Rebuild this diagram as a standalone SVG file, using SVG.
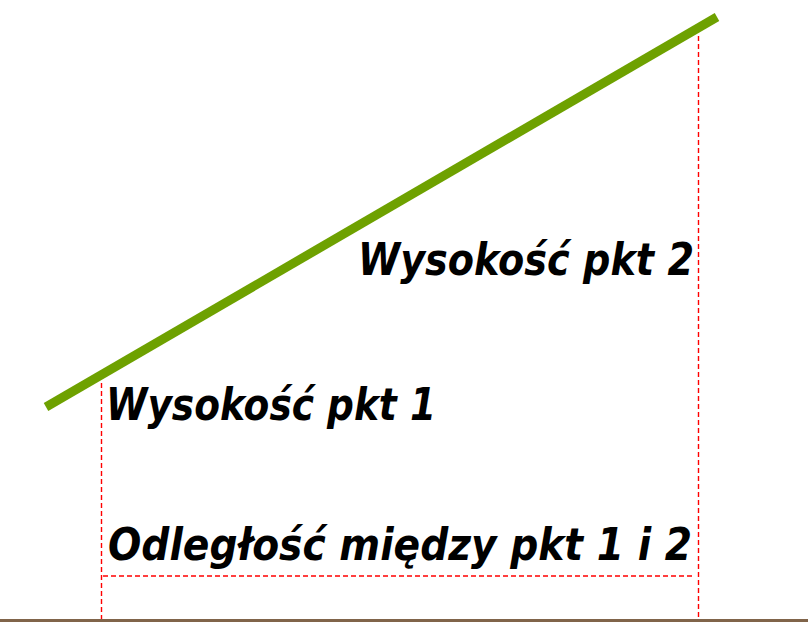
<svg xmlns="http://www.w3.org/2000/svg" width="808" height="639" viewBox="0 0 808 639">
<style>
.lbl{font-family:"DejaVu Sans","Liberation Sans",sans-serif;font-weight:bold;font-style:italic;font-size:44px;fill:#000}
.dash{stroke:#ff0000;stroke-width:1.4;stroke-dasharray:5,3;fill:none}
</style>
<rect width="808" height="639" fill="#ffffff"/>
<g id="guides">
<line class="dash" x1="101.5" y1="383" x2="101.5" y2="620"/>
<line class="dash" x1="698.5" y1="36" x2="698.5" y2="620"/>
<line class="dash" x1="103" y1="576" x2="694" y2="576"/>
</g>
<g id="ground"><line x1="0" y1="620.5" x2="808" y2="620.5" stroke="#80644a" stroke-width="3"/></g>
<g id="slope"><line x1="46" y1="407" x2="717" y2="17" stroke="#6ea100" stroke-width="9"/></g>
<g id="label2"><text class="lbl" x="358" y="275" textLength="336" lengthAdjust="spacingAndGlyphs">Wysokość pkt 2</text></g>
<g id="label1"><text class="lbl" x="106" y="420" textLength="330" lengthAdjust="spacingAndGlyphs">Wysokość pkt 1</text></g>
<g id="label3"><text class="lbl" x="108" y="560" textLength="584" lengthAdjust="spacingAndGlyphs">Odległość między pkt 1 i 2</text></g>
</svg>
